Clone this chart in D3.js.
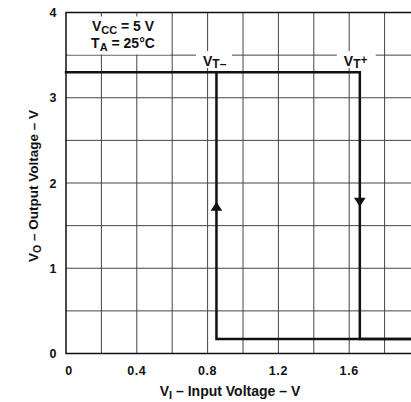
<!DOCTYPE html>
<html>
<head>
<meta charset="utf-8">
<script src="https://cdn.jsdelivr.net/npm/d3@7"></script>
<style>
  body { margin: 0; background: #fff; }
  text { font-family: "Liberation Sans", Arial, sans-serif; font-weight: bold; fill: #111; }
</style>
</head>
<body>
<div id="main"></div>
<script>
// hysteresis transfer curve
var vtMinus = 0.85, vtPlus = 1.66;
var vOutHigh = 3.3, vOutLow = 0.17;
var xTicks = [0, 0.4, 0.8, 1.2, 1.6];
var yTicks = [0, 1, 2, 3, 4];
var xGrid = [0.2, 0.4, 0.6, 0.8, 1.0, 1.2, 1.4, 1.6, 1.8, 2.0];
var yGrid = [0.5, 1, 1.5, 2, 2.5, 3, 3.5];
// rising input: high output until VT+, then low; falling input: low until VT-, then high
var highBranch = [[0, vOutHigh], [vtPlus, vOutHigh], [vtPlus, vOutLow], [2.1, vOutLow]];
var lowBranch = [[vtMinus, vOutHigh], [vtMinus, vOutLow], [2.1, vOutLow]];
var arrows = [[vtMinus, 1.78, 'up'], [vtPlus, 1.72, 'down']];

var width = 411, height = 402;

var svg = d3.select('#main')
  .append('svg')
  .attr('width', width)
  .attr('height', height);

var x = d3.scaleLinear().domain([0, 2]).range([66, 420]);
var y = d3.scaleLinear().domain([0, 4]).range([353.5, 12.5]);

// grid
svg.selectAll('.gx')
  .data(xGrid)
  .enter()
  .append('line')
  .attr('x1', function(d) { return x(d); })
  .attr('x2', function(d) { return x(d); })
  .attr('y1', y(0))
  .attr('y2', y(4))
  .attr('stroke', '#444')
  .attr('stroke-width', 1);

svg.selectAll('.gy')
  .data(yGrid)
  .enter()
  .append('line')
  .attr('x1', x(0))
  .attr('x2', width)
  .attr('y1', function(d) { return y(d); })
  .attr('y2', function(d) { return y(d); })
  .attr('stroke', '#444')
  .attr('stroke-width', 1);

// frame (right side is cut off by the picture edge)
svg.append('path')
  .attr('d', 'M' + width + ',' + y(4) + 'H' + x(0) + 'V' + y(0) + 'H' + width)
  .attr('fill', 'none')
  .attr('stroke', '#111')
  .attr('stroke-width', 1.5);

// white boxes behind labels
svg.append('rect')
  .attr('x', x(0) + 2).attr('y', y(4) + 4)
  .attr('width', 102).attr('height', 38)
  .attr('fill', '#fff');

var cond = svg.append('g');
var t1 = cond.append('text').attr('x', 123).attr('y', 31).attr('text-anchor', 'middle').style('font-size', '14px');
t1.append('tspan').text('V');
t1.append('tspan').attr('dy', 3).style('font-size', '11px').text('CC');
t1.append('tspan').attr('dy', -3).text(' = 5 V');
var t2 = cond.append('text').attr('x', 123).attr('y', 47.5).attr('text-anchor', 'middle').style('font-size', '14px');
t2.append('tspan').text('T');
t2.append('tspan').attr('dy', 3).style('font-size', '11px').text('A');
t2.append('tspan').attr('dy', -3).text(' = 25°C');

var thLabels = [[vtMinus, '\u2013', -13.5, 36, 0], [vtPlus, '+', -16, 39, -4]];
thLabels.forEach(function(d) {
  var x0 = x(d[0]) + d[2];
  svg.append('rect')
    .attr('x', x0 - 7).attr('y', 51)
    .attr('width', d[3]).attr('height', 17)
    .attr('fill', '#fff');
  var t = svg.append('text').attr('x', x0).attr('y', 66).style('font-size', '14px');
  t.append('tspan').text('V');
  t.append('tspan').attr('dy', 2).style('font-size', '12px').text('T');
  t.append('tspan').attr('dy', d[4]).style('font-size', '12px').text(d[1]);
});

// curve
var line = d3.line()
  .x(function(d) { return x(d[0]); })
  .y(function(d) { return y(d[1]); });

[highBranch, lowBranch].forEach(function(b) {
  svg.append('path')
    .attr('d', line(b))
    .attr('fill', 'none')
    .attr('stroke', '#111')
    .attr('stroke-width', 2.5)
    .attr('stroke-linejoin', 'miter')
    .attr('stroke-linecap', 'square');
});

svg.selectAll('.arrow')
  .data(arrows)
  .enter()
  .append('path')
  .attr('transform', function(d) {
    return 'translate(' + x(d[0]) + ',' + y(d[1]) + ')' + (d[2] === 'down' ? ' rotate(180)' : '');
  })
  .attr('d', 'M0,0L5.8,9L-5.8,9Z')
  .attr('fill', '#111');

// tick labels
svg.selectAll('.xt')
  .data(xTicks)
  .enter()
  .append('text')
  .attr('x', function(d) { return x(d) + (d === 0 ? 3 : 0); })
  .attr('y', 374.5)
  .attr('text-anchor', 'middle')
  .style('font-size', '12.5px')
  .style('letter-spacing', '0.6px')
  .text(function(d) { return d === 0 ? '0' : d3.format('.1f')(d); });

svg.selectAll('.yt')
  .data(yTicks)
  .enter()
  .append('text')
  .attr('x', 56.5)
  .attr('y', function(d) { return y(d) + 4.5; })
  .attr('text-anchor', 'end')
  .style('font-size', '12.5px')
  .text(function(d) { return d; });

// axis titles
var xt = svg.append('text').attr('x', 230).attr('y', 396).attr('text-anchor', 'middle').style('font-size', '14px');
xt.append('tspan').text('V');
xt.append('tspan').attr('dy', 3).style('font-size', '11px').text('I');
xt.append('tspan').attr('dy', -3).text(' \u2013 Input Voltage \u2013 V');

var yt = svg.append('text')
  .attr('transform', 'translate(37.5,186) rotate(-90)')
  .attr('text-anchor', 'middle')
  .style('font-size', '13.5px');
yt.append('tspan').text('V');
yt.append('tspan').attr('dy', 3).style('font-size', '10.5px').text('O');
yt.append('tspan').attr('dy', -3).text(' \u2013 Output Voltage \u2013 V');
</script>
</body>
</html>
